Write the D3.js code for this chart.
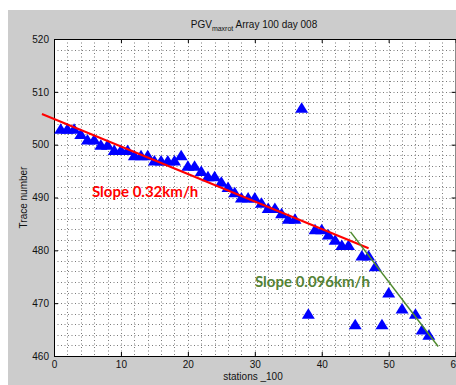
<!DOCTYPE html>
<html>
<head>
<meta charset="utf-8">
<script src="https://cdn.jsdelivr.net/npm/d3@7"></script>
<style>
  body { margin: 0; background: #fff; }
  svg { display: block; }
</style>
</head>
<body>
<script>
// picked data (station index, trace number)
const stations = [1, 2, 3, 4, 5, 6, 7, 8, 9, 10, 11, 12, 13, 14, 15, 16, 17, 18, 19, 20,
                  21, 22, 23, 24, 25, 26, 27, 28, 29, 30, 31, 32, 33, 34, 35, 36, 37, 38, 39, 40,
                  41, 42, 43, 44, 45, 46, 47, 48, 49, 50, 52, 54, 55, 56];
const traces = [503, 503, 503, 502, 501, 501, 500, 500, 499, 499, 499, 498, 498, 498, 497, 497, 497, 497, 498, 496,
                496, 495, 494, 494, 493, 492, 491, 490, 490, 490, 489, 488, 488, 487, 486, 486, 507, 468, 484, 484,
                483, 482, 481, 481, 466, 479, 479, 477, 466, 472, 469, 468, 465, 464];

// fitted slope lines, [station, trace]
const redFit = [[-1.8, 505.8], [47, 480.4]];
const greenFit = [[44.3, 483.5], [57.4, 461.8]];

const xTicks = [0, 10, 20, 30, 40, 50, 60];
const yTicks = [460, 470, 480, 490, 500, 510, 520];

const w = 456;
const h = 385;

const svg = d3.select("body")
    .append("svg")
    .attr("width", w)
    .attr("height", h);

// figure background
svg.append("rect")
    .attr("x", 8)
    .attr("y", 10)
    .attr("width", w - 8)
    .attr("height", h - 10)
    .attr("fill", "#cccccc");

const xScale = d3.scaleLinear().domain([0, 60]).range([54, 455.6]);
const yScale = d3.scaleLinear().domain([460, 520]).range([356, 39]);

svg.append("rect")
    .attr("x", xScale(0))
    .attr("y", yScale(520))
    .attr("width", xScale(60) - xScale(0))
    .attr("height", yScale(460) - yScale(520))
    .attr("fill", "#fff");

// dotted grid every 2 units
const gridX = d3.range(2, 60, 2);
const gridY = d3.range(462, 520, 2);

svg.append("g").selectAll("line")
    .data(gridX)
    .enter()
    .append("line")
    .attr("x1", d => Math.round(xScale(d)) + 0.5)
    .attr("x2", d => Math.round(xScale(d)) + 0.5)
    .attr("y1", yScale(520))
    .attr("y2", yScale(460))
    .attr("stroke", "#7a7a7a")
    .attr("stroke-dasharray", "1,2.5");

svg.append("g").selectAll("line")
    .data(gridY)
    .enter()
    .append("line")
    .attr("y1", d => Math.round(yScale(d)) + 0.5)
    .attr("y2", d => Math.round(yScale(d)) + 0.5)
    .attr("x1", xScale(0))
    .attr("x2", xScale(60))
    .attr("stroke", "#7a7a7a")
    .attr("stroke-dasharray", "1,2.5");

// axes (inward ticks, box on)
const xAxis = d3.axisBottom(xScale).tickValues(xTicks).tickSizeInner(-4).tickSizeOuter(0).tickPadding(5);
const yAxis = d3.axisLeft(yScale).tickValues(yTicks).tickSizeInner(-4).tickSizeOuter(0).tickPadding(5);

svg.append("g")
    .attr("class", "xaxis")
    .attr("transform", "translate(0," + yScale(460) + ")")
    .call(xAxis);

svg.append("g")
    .attr("class", "yaxis")
    .attr("transform", "translate(" + xScale(0) + ",0)")
    .call(yAxis);

svg.append("g")
    .attr("transform", "translate(0," + yScale(520) + ")")
    .call(d3.axisTop(xScale).tickValues(xTicks).tickSizeInner(-4).tickSizeOuter(0).tickFormat(""));

svg.append("g")
    .attr("transform", "translate(" + xScale(60) + ",0)")
    .call(d3.axisRight(yScale).tickValues(yTicks).tickSizeInner(-4).tickSizeOuter(0).tickFormat(""));

svg.selectAll(".domain").attr("stroke", "#000");
svg.selectAll(".tick line").attr("stroke", "#000");
svg.selectAll(".xaxis text, .yaxis text")
    .attr("font-family", "Liberation Sans, Arial, sans-serif")
    .attr("font-size", 10)
    .attr("fill", "#111");

// markers
const pts = stations.map((s, i) => [s, traces[i]]);

svg.append("g").selectAll("path")
    .data(pts)
    .enter()
    .append("path")
    .attr("d", "M0,-5.5L6.5,5L-6.5,5Z")
    .attr("transform", d => "translate(" + xScale(d[0]) + "," + yScale(d[1]) + ")")
    .attr("fill", "#0000ff");

const line = d3.line().x(d => xScale(d[0])).y(d => yScale(d[1]));

svg.append("path")
    .attr("d", line(redFit))
    .attr("stroke", "#ff0000")
    .attr("stroke-width", 2)
    .attr("fill", "none");

svg.append("path")
    .attr("d", line(greenFit))
    .attr("stroke", "#4f8a2e")
    .attr("stroke-width", 1.5)
    .attr("fill", "none");

svg.append("text")
    .attr("x", 92)
    .attr("y", 197)
    .attr("font-family", "Lato, sans-serif")
    .attr("font-size", 15)
    .attr("font-weight", "bold")
    .attr("fill", "#ff0000")
    .text("Slope 0.32km/h");

svg.append("text")
    .attr("x", 255)
    .attr("y", 287)
    .attr("font-family", "Lato, sans-serif")
    .attr("font-size", 15)
    .attr("font-weight", "bold")
    .attr("fill", "#548235")
    .text("Slope 0.096km/h");

// title and labels
const title = svg.append("text")
    .attr("x", 254)
    .attr("y", 28)
    .attr("text-anchor", "middle")
    .attr("font-family", "Liberation Sans, Arial, sans-serif")
    .attr("font-size", 10)
    .attr("fill", "#111");
title.append("tspan").text("PGV");
title.append("tspan").attr("font-size", 7).attr("dy", 3).text("maxrot");
title.append("tspan").attr("dy", -3).text(" Array 100 day 008");

svg.append("text")
    .attr("x", 253)
    .attr("y", 380)
    .attr("text-anchor", "middle")
    .attr("font-family", "Liberation Sans, Arial, sans-serif")
    .attr("font-size", 10)
    .attr("fill", "#111")
    .text("stations _100");

svg.append("text")
    .attr("transform", "translate(27," + (yScale(490)) + ") rotate(-90)")
    .attr("text-anchor", "middle")
    .attr("font-family", "Liberation Sans, Arial, sans-serif")
    .attr("font-size", 10)
    .attr("fill", "#111")
    .text("Trace number");
</script>
</body>
</html>
